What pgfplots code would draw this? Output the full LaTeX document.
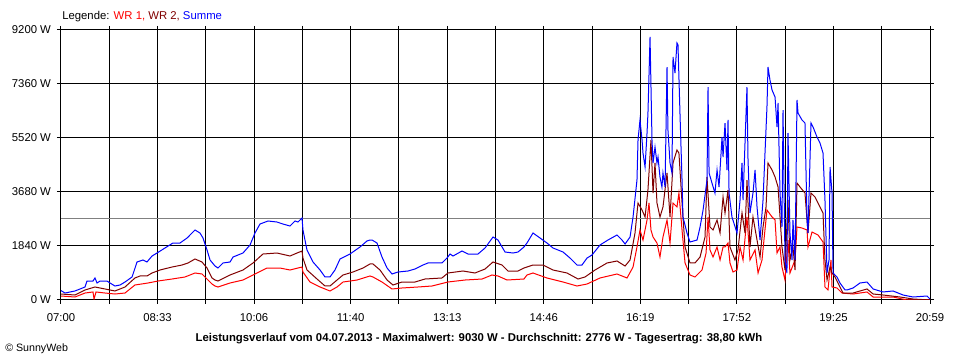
\documentclass[border=0pt]{standalone}
\usepackage{fontspec}
\setmainfont{Liberation Sans}
\usepackage{pgfplots}
\pgfplotsset{compat=1.18}
\definecolor{wrone}{RGB}{255,0,0}
\definecolor{wrtwo}{RGB}{128,0,0}
\definecolor{summe}{RGB}{0,0,255}
\definecolor{avg}{RGB}{128,128,128}
\begin{document}
\begin{tikzpicture}
\useasboundingbox (0pt,0pt) rectangle (720pt,270pt);
\begin{axis}[
  at={(45.75pt,45pt)}, anchor=south west,
  scale only axis, width=651.75pt, height=202.5pt,
  xmin=0, xmax=839, ymin=0, ymax=9200,
  axis line style={black, line width=0.75pt},
  grid=major, grid style={black, line width=0.75pt},
  tick style={black, line width=0.75pt},
  major tick length=3pt, tick align=outside,
  xtick={0,46.61,93.22,139.83,186.44,233.06,279.67,326.28,372.89,419.5,466.11,512.72,559.33,605.94,652.56,699.17,745.78,792.39,839},
  xticklabels={07:00,,08:33,,10:06,,11:40,,13:13,,14:46,,16:19,,17:52,,19:25,,20:59},
  ytick={0,1840,3680,5520,7360,9200},
  yticklabels={0 W,1840 W,3680 W,5520 W,7360 W,9200 W},
  ticklabel style={font=\fontsize{8.5}{10}\selectfont},
  xticklabel style={yshift=-3.5pt},
  yticklabel style={xshift=-1pt},
  clip=true,
  every axis plot/.append style={line width=0.75pt, line join=miter},
]
\addplot[avg, line width=0.75pt] coordinates {(0,2776) (839,2776)};
% WR 1
\addplot[wrone] coordinates {
(0,136)(13.5,102)(23.2,238)(30.9,273)(31.9,34)(33.8,273)(42.5,238)(52.1,204)(61.8,238)(71.4,511)(84.0,579)(93.7,647)(107.2,715)(119.7,784)(129.4,920)(136.1,886)(141.0,715)(145.8,545)(148.7,477)(151.6,443)(163.2,579)(175.7,681)(185.4,852)(198.9,1090)(211.4,1090)(221.1,1022)(232.7,1124)(233.6,954)(240.4,613)(250.1,443)(259.7,307)(266.5,443)(272.3,613)(285.8,681)(298.3,818)(301.2,784)(309.9,613)(319.6,375)(329.2,409)(344.7,443)(358.2,477)(373.6,613)(390.1,681)(406.5,715)(416.1,852)(421.9,818)(430.6,681)(447.0,715)(449.9,852)(455.7,920)(469.2,750)(484.7,613)(498.2,477)(507.9,545)(520.4,750)(536.8,886)(546.5,750)(552.3,1124)(556.1,1806)(559.0,2385)(561.9,2044)(565.8,2726)(567.7,3305)(569.6,2385)(571.6,2146)(575.4,1942)(578.3,1465)(581.2,2146)(585.1,2726)(588.0,1942)(590.9,3305)(594.7,3169)(596.6,3645)(599.6,2385)(602.5,1261)(607.3,852)(612.1,784)(618.9,1022)(622.8,1601)(624.7,2828)(626.6,1704)(629.5,1465)(633.4,1806)(636.3,1363)(639.2,1806)(641.1,1806)(644.0,1942)(645.9,1261)(648.8,954)(652.7,1022)(655.6,1806)(658.5,1363)(662.3,2828)(665.2,1363)(670.1,1704)(673.0,920)(676.8,1363)(678.7,2044)(681.6,3066)(686.5,2828)(689.4,2726)(691.3,1601)(694.2,1806)(696.1,1124)(699.0,681)(701.9,2044)(703.8,920)(708.7,1363)(710.6,2487)(715.4,2453)(720.3,2385)(721.2,1806)(725.1,2317)(730.9,2215)(735.7,1976)(737.6,443)(740.5,341)(743.4,1363)(744.4,443)(749.2,409)(754.1,238)(764.7,204)(778.2,273)(784.1,102)(803.3,102)(816.8,0)(839,0)
};
% WR 2
\addplot[wrtwo] coordinates {
(0,204)(13.5,170)(23.2,341)(32.8,443)(42.5,375)(52.1,307)(61.8,443)(71.4,750)(76.3,818)(83.0,818)(87.9,920)(95.6,1022)(107.2,1124)(116.8,1192)(122.6,1261)(129.4,1397)(136.1,1295)(141.0,1090)(145.8,750)(148.7,681)(151.6,647)(163.2,852)(175.7,1022)(185.4,1261)(195.0,1567)(208.5,1601)(221.1,1499)(227.9,1601)(232.7,1669)(233.6,1431)(237.5,1022)(247.2,715)(254.9,477)(259.7,477)(266.5,681)(272.3,852)(281.9,954)(291.6,1090)(298.3,1227)(301.2,1227)(308.0,1022)(314.8,681)(320.5,511)(329.2,613)(341.8,613)(351.4,715)(367.8,750)(373.6,920)(388.1,988)(399.7,920)(409.4,1056)(417.1,1295)(425.8,1192)(431.6,988)(441.2,988)(447.0,1090)(455.7,1192)(465.4,1192)(475.0,1022)(488.5,920)(499.2,715)(505.9,784)(515.6,1022)(527.2,1261)(536.8,1329)(544.6,1158)(549.4,1363)(554.2,2283)(557.1,3305)(561.0,3066)(563.9,2828)(566.7,3748)(569.6,5451)(571.6,3645)(573.5,4668)(575.4,3305)(578.3,2828)(581.2,3169)(585.1,4327)(588.0,2828)(590.9,4668)(594.7,5111)(596.6,5008)(599.6,3305)(602.5,1806)(607.3,1261)(612.1,1261)(617.0,1465)(621.8,2146)(623.7,4191)(626.6,2487)(629.5,2385)(633.4,2726)(636.3,2283)(639.2,3509)(641.1,2964)(644.0,3748)(645.9,1806)(650.7,1363)(653.6,1704)(657.5,2964)(660.4,2283)(662.3,4088)(665.2,1806)(668.1,2828)(672.0,2044)(674.9,1465)(677.8,2487)(680.7,3169)(682.6,4668)(686.5,4429)(689.4,4191)(692.3,3850)(696.1,1806)(699.0,1022)(701.9,3407)(703.8,1363)(706.7,1806)(708.7,1022)(710.6,3986)(713.5,3850)(718.3,3645)(721.2,2283)(724.1,3645)(728.0,3509)(732.8,3169)(735.7,2964)(737.6,1363)(739.6,681)(742.5,1124)(744.4,920)(747.3,784)(750.2,579)(755.0,238)(764.7,238)(778.2,375)(784.1,204)(793.7,170)(810.1,102)(822.6,34)(839,0)
};
% Summe
\addplot[summe] coordinates {
(0,320)(3.9,238)(13.5,307)(23.2,443)(25.1,647)(30.9,647)(32.8,750)(34.8,579)(37.7,647)(44.4,647)(47.3,579)(52.1,477)(57.0,511)(61.8,613)(68.6,784)(73.4,1295)(79.2,1363)(83.0,1295)(87.9,1499)(92.7,1601)(100.4,1772)(108.1,1942)(114.9,1942)(121.7,2112)(126.5,2283)(129.4,2385)(134.2,2283)(137.1,2112)(141.0,1704)(143.9,1363)(148.7,1158)(151.6,1090)(156.4,1261)(163.2,1295)(166.1,1465)(175.7,1601)(182.5,1874)(187.3,2283)(192.1,2589)(199.9,2692)(208.5,2657)(214.3,2589)(221.1,2521)(225.9,2692)(228.8,2657)(232.7,2794)(233.6,2385)(237.5,1704)(243.3,1295)(250.1,1022)(254.9,784)(259.7,784)(264.5,1022)(269.4,1397)(279.0,1567)(288.7,1806)(295.4,2010)(298.3,2044)(300.3,2044)(305.1,1942)(309.9,1465)(314.8,1090)(319.6,886)(325.4,954)(335.0,988)(341.8,1056)(349.5,1192)(354.3,1261)(367.8,1261)(372.7,1431)(375.6,1567)(378.5,1499)(387.2,1669)(393.0,1567)(402.6,1567)(409.4,1772)(417.1,2146)(421.9,2044)(428.7,1635)(436.4,1601)(441.2,1635)(447.0,1806)(449.9,1942)(455.7,2283)(462.5,2112)(469.2,1942)(475.0,1772)(484.7,1635)(491.4,1431)(498.2,1192)(503.0,1192)(507.9,1431)(512.7,1533)(520.4,1874)(528.1,2044)(536.8,2215)(541.6,2044)(544.6,1908)(549.4,2146)(552.3,2828)(556.1,4088)(557.1,5451)(559.0,6133)(561.0,5451)(561.9,5008)(563.9,4531)(565.8,5690)(566.7,6371)(568.7,8961)(570.6,5451)(571.6,4668)(573.5,5213)(575.4,4668)(576.4,4872)(578.3,4191)(580.2,3850)(581.2,4327)(583.2,3850)(585.1,7938)(586.0,5792)(588.0,4668)(589.9,4327)(590.9,8279)(592.8,7734)(594.7,8756)(595.7,8688)(597.6,6371)(599.6,4088)(600.5,2828)(604.4,2283)(607.3,1976)(614.1,2044)(617.0,2487)(619.9,3066)(623.7,4088)(624.7,7257)(625.7,4327)(628.5,3986)(631.4,3645)(633.4,4429)(635.3,3850)(638.2,5553)(639.2,4872)(641.1,6030)(643.0,4429)(644.0,6133)(645.0,3645)(647.8,2828)(652.7,2283)(655.6,3407)(657.5,4668)(658.5,3407)(660.4,5349)(662.3,7257)(663.3,4770)(665.2,2964)(668.1,3645)(670.1,4429)(672.0,3169)(674.9,2044)(677.8,3407)(679.7,5008)(681.6,6576)(682.6,7938)(684.5,7495)(686.5,7155)(689.4,6916)(691.3,5894)(692.3,6712)(694.2,3645)(696.1,2487)(697.1,6473)(699.0,1363)(700.9,920)(701.9,5690)(703.8,2283)(705.8,1363)(706.7,2726)(708.7,1363)(710.6,6814)(711.6,6371)(715.4,6133)(718.3,6030)(720.3,2726)(721.2,2283)(724.1,6030)(726.1,5894)(729.9,5553)(732.8,5349)(735.7,5008)(737.6,3407)(739.6,920)(741.5,1363)(742.5,4531)(744.4,3645)(745.4,920)(749.2,784)(752.1,579)(757.0,341)(758.9,341)(764.7,409)(771.4,579)(778.2,613)(784.1,375)(793.7,273)(803.3,307)(813.0,170)(822.6,102)(836.1,136)(839,34)
};
\end{axis}
\node[anchor=west, inner sep=0pt, font=\fontsize{8.5}{10}\selectfont] at (46.5pt,257.25pt) {Legende: \textcolor{wrone}{WR 1,} \textcolor{wrtwo}{WR 2,} \textcolor{summe}{Summe}};
\node[anchor=center, inner sep=0pt, font=\fontsize{8.5}{10}\selectfont\bfseries] at (359.25pt,15.75pt) {Leistungsverlauf vom 04.07.2013 - Maximalwert: 9030 W - Durchschnitt: 2776 W - Tagesertrag: 38,80 kWh};
\node[anchor=west, inner sep=0pt, font=\fontsize{8}{10}\selectfont] at (3.75pt,8.25pt) {\textcopyright{} SunnyWeb};
\end{tikzpicture}
\end{document}
